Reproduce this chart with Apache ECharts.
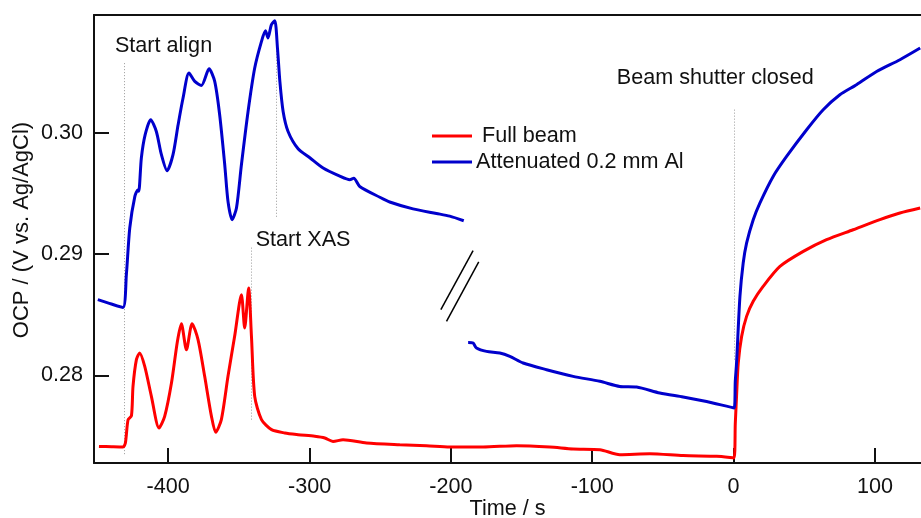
<!DOCTYPE html>
<html><head><meta charset="utf-8">
<script src="https://cdn.jsdelivr.net/npm/echarts@6/dist/echarts.min.js"></script>
<style>html,body{margin:0;padding:0;background:#fff}#c{width:921px;height:518px}</style>
</head><body><div id="c"></div>
<script>
// ---- data ----
const xTicks = [-400, -300, -200, -100, 0, 100];
const yTicks = [0.28, 0.29, 0.30];
const seriesNames = ['Full beam', 'Attenuated 0.2 mm Al'];

// Full beam: [time s, OCP V]
const fullBeam = [
  [-449, 0.27414], [-440, 0.27411], [-432, 0.27409], [-430.3, 0.27442], [-428.4, 0.27634],
  [-426, 0.27667], [-424.9, 0.27909], [-422.5, 0.2813], [-420.2, 0.28185], [-416.6, 0.28074],
  [-411.9, 0.27827], [-406.5, 0.27566], [-402.5, 0.27662], [-397.7, 0.27937], [-393.5, 0.2828],
  [-390.7, 0.28427], [-387.1, 0.28212], [-383.1, 0.28427], [-378.9, 0.28295], [-374.2, 0.27992],
  [-369.4, 0.27662], [-366.4, 0.2753], [-362.4, 0.27635], [-357.7, 0.27992], [-353, 0.28322],
  [-348.2, 0.28666], [-345.9, 0.28391], [-343.1, 0.28721], [-341.1, 0.28322], [-338.8, 0.27827],
  [-334, 0.27635], [-326.9, 0.27552], [-317.5, 0.27525], [-308.1, 0.27511], [-296.3, 0.27497],
  [-289.2, 0.27483], [-283.4, 0.27455], [-276.3, 0.27469], [-259.7, 0.27442], [-236.2, 0.27428],
  [-217.3, 0.2742], [-200.8, 0.27409], [-177.2, 0.27409], [-153.6, 0.2742], [-130, 0.27409],
  [-113.5, 0.27393], [-94.6, 0.27387], [-80.5, 0.27346], [-59.2, 0.27354], [-35.7, 0.27338],
  [-12, 0.27332], [0.3, 0.27319], [1.2, 0.276], [2.1, 0.27827], [3.3, 0.28102], [5.7, 0.28322],
  [9.2, 0.28487], [13.9, 0.28611], [20.9, 0.28734], [32.8, 0.28899], [49.3, 0.29023],
  [65.8, 0.2912], [84.6, 0.29202], [103.5, 0.29285], [117.7, 0.2934], [132, 0.29381]
];

// Attenuated, before the time break
const attenuatedBefore = [
  [-449.8, 0.28625], [-440.2, 0.28589], [-432, 0.28561], [-429.6, 0.28831], [-427.2, 0.29216],
  [-423.6, 0.29477], [-421.4, 0.29532], [-420.8, 0.2952], [-419, 0.29794], [-416.3, 0.29986],
  [-412.4, 0.3011], [-408.4, 0.30013], [-404.8, 0.29821], [-400.8, 0.29689], [-396.6, 0.29821],
  [-393, 0.30068], [-389.5, 0.30289], [-385.3, 0.30495], [-381.2, 0.30426], [-376.5, 0.30393],
  [-371.1, 0.3053], [-367.1, 0.30426], [-363.6, 0.30151], [-360, 0.29738], [-357.7, 0.29436],
  [-354.8, 0.29285], [-351.7, 0.29381], [-348.2, 0.29738], [-343.5, 0.30178], [-338.8, 0.30536],
  [-334, 0.30756], [-331.2, 0.30844], [-329.4, 0.30784], [-327, 0.30894], [-324.6, 0.30927],
  [-322.7, 0.30701], [-321, 0.30426], [-318.7, 0.30178], [-315.2, 0.30013], [-308.1, 0.2987],
  [-299.8, 0.29796], [-290.4, 0.29711], [-278.6, 0.29644], [-271.5, 0.29615], [-268.7, 0.29627],
  [-264.5, 0.29559], [-250.3, 0.2947], [-243.3, 0.29431], [-226.8, 0.29374], [-210.2, 0.29336],
  [-200.8, 0.29314], [-190.9, 0.29276]
];

// Attenuated, after the time break
const attenuatedAfter = [
  [-187.8, 0.28272], [-184.3, 0.28267], [-181.9, 0.28226], [-174.8, 0.28198], [-165.4, 0.28185],
  [-158.3, 0.28157], [-148.9, 0.28102], [-132.3, 0.28047], [-113.5, 0.27992], [-94.6, 0.27951],
  [-80.5, 0.27909], [-68.6, 0.27904], [-52.2, 0.27855], [-35.7, 0.27822], [-19.1, 0.27785],
  [0.4, 0.27731], [1.2, 0.2795], [2.1, 0.28102], [4.5, 0.28652], [6.8, 0.28927], [9.2, 0.29092],
  [13.9, 0.29285], [18.6, 0.29422], [28, 0.29642], [37.5, 0.29807], [51.7, 0.30027],
  [63.4, 0.30192], [75.2, 0.30316], [87, 0.30399], [101.2, 0.30508], [117.7, 0.30605], [132, 0.30701]
];

// Dotted event markers: time, OCP from, OCP to
const markerTime = [-431.5, -323.4, -341.1, 0];
const markerFrom = [0.2735, 0.29309, 0.27635, 0.2813];
const markerTo   = [0.3058, 0.30893, 0.29062, 0.30209];

// Event labels: text, left time, middle OCP
const eventLabels = ['Start align', 'Start XAS', 'Beam shutter closed'];
const eventTime = [-437.7, -338.1, -82.6];
const eventOCP = [0.30717, 0.2912, 0.30453];

// Axis break marks "//" : [t1, v1, t2, v2]
const breakMarks = [
  [-207.1, 0.28542, -184.3, 0.29029],
  [-203.1, 0.28446, -180.3, 0.28936]
];

// ---- chart ----
const FONT = '"Liberation Sans", Arial, Helvetica, sans-serif';
const FS = 21.6;
const TXT = '#111';
const chart = echarts.init(document.getElementById('c'), null, {renderer: 'canvas'});
const lineBase = {type: 'line', showSymbol: false, symbol: 'none', smooth: 0.25, clip: true, z: 3};

const option = {
  animation: false,
  backgroundColor: '#fff',
  textStyle: {fontFamily: FONT},
  grid: {left: 94, right: 0, top: 15, bottom: 55, containLabel: false, outerBoundsMode: 'none'},
  legend: {
    data: seriesNames,
    orient: 'vertical',
    left: 432, top: 125,
    padding: 0, itemGap: 4, itemWidth: 40, itemHeight: 3,
    icon: 'rect',
    textStyle: {fontSize: FS, color: TXT, fontFamily: FONT, padding: [0, 0, 0, -1]},
    formatter: n => (n === 'Full beam' ? ' ' + n : n)
  },
  xAxis: [{
    type: 'value', min: -452.5, max: 132.6, position: 'bottom',
    axisLine: {show: true, onZero: false, lineStyle: {color: TXT, width: 2}},
    axisTick: {show: true, inside: true, length: 15, customValues: xTicks, lineStyle: {color: TXT, width: 2}},
    axisLabel: {customValues: xTicks, fontSize: FS, color: TXT, margin: 13, fontFamily: FONT},
    splitLine: {show: false},
    name: 'Time / s', nameLocation: 'middle', nameGap: 35, nameMoveOverlap: false,
    nameTextStyle: {fontSize: FS, color: TXT, fontFamily: FONT}
  }, {
    type: 'value', min: -452.5, max: 132.6, position: 'top',
    axisLine: {show: true, onZero: false, lineStyle: {color: TXT, width: 2}},
    axisTick: {show: false}, axisLabel: {show: false}, splitLine: {show: false}
  }],
  yAxis: {
    type: 'value', min: 0.27277, max: 0.30974,
    axisLine: {show: true, onZero: false, lineStyle: {color: TXT, width: 2}},
    axisTick: {show: true, inside: true, length: 15, customValues: yTicks, lineStyle: {color: TXT, width: 2}},
    axisLabel: {customValues: yTicks, formatter: v => v.toFixed(2), fontSize: FS, color: TXT, margin: 11, fontFamily: FONT},
    splitLine: {show: false},
    name: 'OCP / (V vs. Ag/AgCl)', nameLocation: 'middle', nameGap: 61, nameRotate: 90, nameMoveOverlap: false,
    nameTextStyle: {fontSize: 22, color: TXT, fontFamily: FONT, padding: [0, 0, 0, 18]}
  },
  series: [
    Object.assign({}, lineBase, {name: seriesNames[0], data: fullBeam, color: '#ff0000', lineStyle: {color: '#ff0000', width: 3}}),
    Object.assign({}, lineBase, {name: seriesNames[1], data: attenuatedBefore, color: '#0000cc', lineStyle: {color: '#0000cc', width: 3}}),
    Object.assign({}, lineBase, {name: seriesNames[1], data: attenuatedAfter, color: '#0000cc', lineStyle: {color: '#0000cc', width: 3}})
  ]
};
chart.setOption(option);

function px(t, v) { return chart.convertToPixel({gridIndex: 0}, [t, v]); }
const graphics = [];
markerTime.forEach((t, i) => {
  const a = px(t, markerFrom[i]), b = px(t, markerTo[i]);
  graphics.push({type: 'line', z: 1, silent: true,
    shape: {x1: Math.round(a[0]) + 0.5, y1: a[1], x2: Math.round(b[0]) + 0.5, y2: b[1]},
    style: {stroke: '#9a9a9a', lineWidth: 1, lineDash: [1, 2]}});
});
eventLabels.forEach((s, i) => {
  const p = px(eventTime[i], eventOCP[i]);
  graphics.push({type: 'text', z: 5, silent: true, x: p[0], y: p[1],
    style: {text: s, fill: TXT, fontSize: FS, fontFamily: FONT, textAlign: 'left', textVerticalAlign: 'middle'}});
});
breakMarks.forEach(m => {
  const a = px(m[0], m[1]), b = px(m[2], m[3]);
  graphics.push({type: 'line', z: 5, silent: true,
    shape: {x1: a[0], y1: a[1], x2: b[0], y2: b[1]},
    style: {stroke: '#000', lineWidth: 1.5}});
});
chart.setOption({graphic: graphics});
</script>
</body></html>
